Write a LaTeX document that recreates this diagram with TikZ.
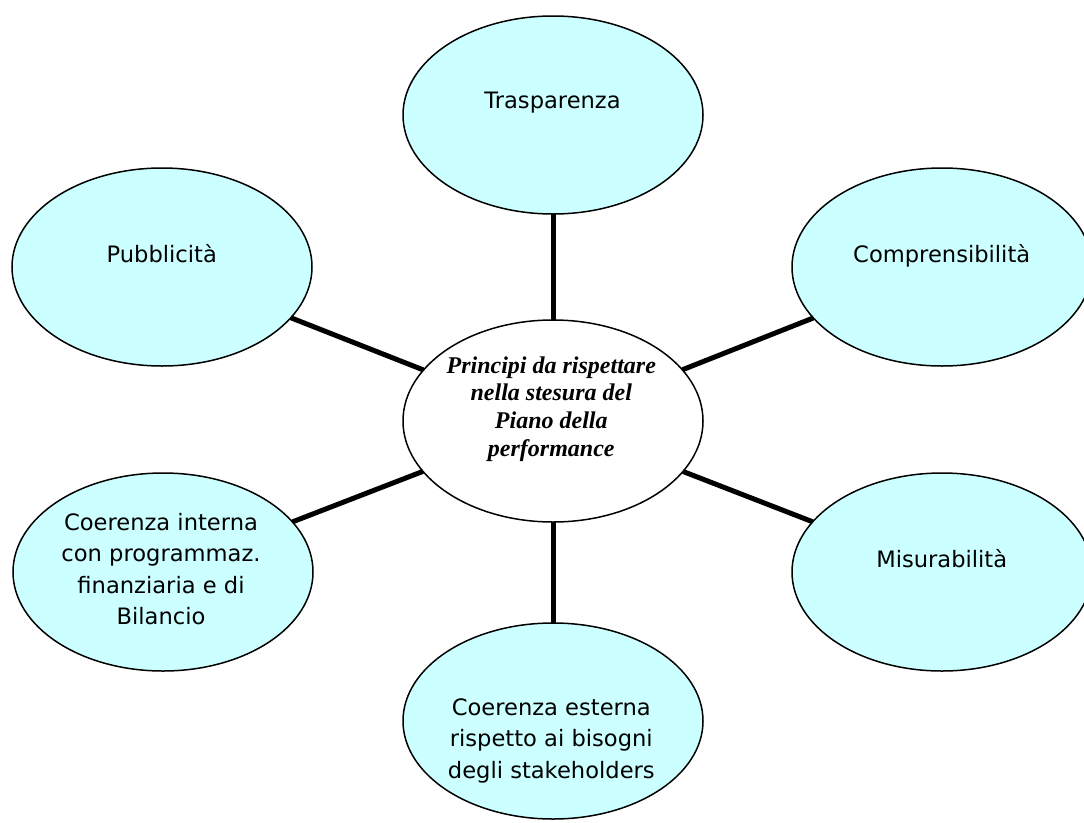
\documentclass[tikz,border=0pt]{standalone}
\usepackage{fontspec}
\newfontfamily\labfont{DejaVu Sans}
\newfontfamily\cenfont{Liberation Serif}
\usetikzlibrary{shapes.geometric}
\definecolor{cyanfill}{HTML}{CCFFFF}
\begin{document}
\begin{tikzpicture}[x=1pt,y=-1pt,
  bubble/.style={ellipse, draw=black, line width=1.5pt, fill=cyanfill,
    minimum width=300pt, minimum height=198pt, inner sep=0pt, outer sep=0pt},
  lab/.style={font=\labfont\fontsize{22.6}{31.6}\selectfont, inner sep=0pt, anchor=base, text=black},
  cen/.style={font=\cenfont\bfseries\itshape\fontsize{24}{27.9}\selectfont, inner sep=0pt, anchor=base, text=black},
  conn/.style={line width=5pt, draw=black}
]
\useasboundingbox (0,0) rectangle (1084,822);
\clip (0,0) rectangle (1084,822);

% ellipses
\node[bubble] (T) at (553,115) {};
\node[bubble, fill=white, minimum height=202pt] (C) at (553,421) {};
\node[bubble] (P) at (162,267) {};
\node[bubble] (R) at (942,267) {};
\node[bubble] (I) at (163,572) {};
\node[bubble] (M) at (942,572) {};
\node[bubble, minimum height=196pt] (E) at (553,721) {};

% connectors
\draw[conn] (T) -- (C);
\draw[conn] (P) -- (C);
\draw[conn] (R) -- (C);
\draw[conn] (I) -- (C);
\draw[conn] (M) -- (C);
\draw[conn] (E) -- (C);

% labels
\node[lab] (tT) at (552.5,108) {Trasparenza};
\node[lab] (tP) at (161.7,262) {Pubblicità};
\node[lab] (tR) at (941.7,262) {Comprensibilità};
\node[lab] (tM) at (941.7,567) {Misurabilità};
\node[lab] (tI) at (161,530) {\begin{tabular}[t]{@{}c@{}}Coerenza interna\\con programmaz.\\finanziaria e di\\Bilancio\end{tabular}};
\node[lab] (tE) at (551.3,715) {\begin{tabular}[t]{@{}c@{}}Coerenza esterna\\rispetto ai bisogni\\degli stakeholders\end{tabular}};
\node[cen] (tC) at (551.3,373) {\begin{tabular}[t]{@{}c@{}}Principi da rispettare\\nella stesura del\\Piano della\\performance\end{tabular}};
\end{tikzpicture}
\end{document}
